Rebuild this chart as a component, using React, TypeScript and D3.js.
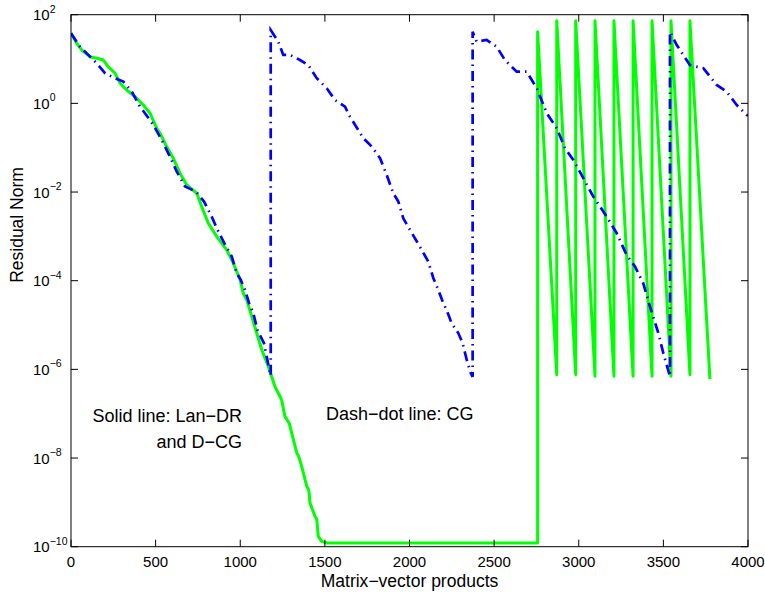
import React from "react";
import * as d3 from "d3";

// Solid green line: Lan-DR and D-CG
const lanX = [0, 34, 63, 112, 152, 191, 220, 260, 290, 329, 378, 427, 467, 506, 526, 565, 604, 644, 684, 743, 772, 811, 861, 920, 959, 999, 1018, 1038, 1068, 1097, 1127, 1166, 1180, 1205, 1235, 1245, 1264, 1290, 1304, 1334, 1345, 1363, 1393, 1405, 1412, 1442, 1452, 1461, 1481, 1511, 2757, 2757, 2870, 2870, 2982, 2982, 3096, 3096, 3208, 3208, 3321, 3321, 3433, 3433, 3545, 3545, 3657, 3657, 3775];
const lanR = [38, 22.6, 16, 11.3, 10.4, 9.5, 6.7, 4.8, 2.84, 2.0, 1.42, 0.92, 0.6, 0.275, 0.212, 0.106, 0.058, 0.0266, 0.0145, 0.0094, 0.0047, 0.00199, 0.00099, 4.97e-4, 2.49e-4, 1.05e-4, 5.2e-5, 3.7e-5, 1.56e-5, 6.6e-6, 2.77e-6, 1.16e-6, 8.0e-7, 4.1e-7, 2.45e-7, 2.0e-7, 8.7e-8, 6.0e-8, 3.66e-8, 1.3e-8, 1.1e-8, 6.5e-9, 2.3e-9, 1.9e-9, 9.7e-10, 4.8e-10, 4.2e-10, 1.71e-10, 1.32e-10, 1.21e-10, 1.21e-10, 41, 7.6e-7, 73, 7.6e-7, 73, 7.0e-7, 73, 7.0e-7, 73, 7.0e-7, 73, 7.0e-7, 73, 7.0e-7, 73, 7.6e-7, 73, 6.0e-7];

// Dash-dot blue line: CG (restarted)
const cgX = [0, 53, 102, 152, 201, 260, 309, 359, 408, 437, 486, 536, 585, 625, 674, 739, 786, 831, 870, 916, 950, 979, 1003, 1028, 1052, 1077, 1101, 1140, 1160, 1176, 1180,
  1180, 1225, 1254, 1294, 1353, 1402, 1452, 1511, 1560, 1619, 1648, 1678, 1727, 1777, 1826, 1865, 1904, 1934, 1963, 2003, 2038, 2078, 2111, 2141, 2170, 2196, 2223, 2249, 2288, 2314, 2338, 2362, 2373,
  2373, 2397, 2456, 2515, 2564, 2633, 2692, 2752, 2811, 2870, 2919, 2968, 3027, 3086, 3165, 3224, 3283, 3332, 3381, 3421, 3470, 3500, 3539,
  3539, 3579, 3657, 3736, 3815, 3874, 3933, 3992, 4000];
const cgR = [38, 19, 12.4, 8.0, 4.8, 3.7, 3.1, 1.84, 0.84, 0.6, 0.33, 0.15, 0.063, 0.0289, 0.0133, 0.0102, 0.0061, 0.0028, 0.00129, 5.9e-4, 3.5e-4, 1.48e-4, 1.05e-4, 6.2e-5, 3.1e-5, 1.86e-5, 7.8e-6, 3.9e-6, 1.65e-6, 8.3e-7, 7.2e-7,
  45, 24.6, 12.4, 12.4, 9.5, 7.3, 3.7, 2.19, 1.19, 0.84, 0.5, 0.33, 0.164, 0.106, 0.058, 0.0244, 0.0094, 0.0061, 0.00257, 0.0014, 8.3e-4, 4.5e-4, 2.7e-4, 1.14e-4, 6.2e-5, 3.4e-5, 2.0e-5, 1.1e-5, 6.6e-6, 3.9e-6, 1.65e-6, 8.3e-7, 6.8e-7,
  41, 24.6, 26.9, 19, 9.5, 5.2, 5.2, 2.19, 0.6, 0.275, 0.097, 0.053, 0.0205, 0.0079, 0.0028, 0.00118, 3.8e-4, 2.09e-4, 8.8e-5, 2.6e-5, 6.6e-6, 2.3e-6, 6.9e-7,
  41, 20.7, 7.3, 6.2, 2.6, 1.84, 0.92, 0.55, 0.53];

const xTicks = [0, 500, 1000, 1500, 2000, 2500, 3000, 3500, 4000];
const yTickExps = [2, 0, -2, -4, -6, -8, -10];

const W = 765, H = 594;
const L = 71, R = 748, T = 14.7, B = 546.7;
const FONT = "'Liberation Sans', Arial, Helvetica, sans-serif";

export default function App() {
  const x = d3.scaleLinear().domain([0, 4000]).range([L, R]);
  const y = d3.scaleLog().domain([1e-10, 1e2]).range([B, T]);
  const line = d3.line<[number, number]>().x(d => x(d[0])).y(d => y(d[1]));
  const lanPts = lanX.map((v, i) => [v, lanR[i]] as [number, number]);
  const cgPts = cgX.map((v, i) => [v, cgR[i]] as [number, number]);
  const tl = 7;
  const fmtExp = (e: number) => (e < 0 ? "\u2212" + Math.abs(e) : String(e));

  return (
    <svg width={W} height={H} style={{ position: "absolute", left: 0, top: 0, background: "#fff" }} fontFamily={FONT}>
      <rect x={0} y={0} width={W} height={H} fill="#fff" />
      <defs>
        <clipPath id="plotclip">
          <rect x={L} y={T - 2} width={R - L} height={B - T + 4} />
        </clipPath>
      </defs>
      <g clipPath="url(#plotclip)">
        <path d={line(lanPts) || ""} fill="none" stroke="#00ff00" strokeWidth={3} strokeLinejoin="round" />
        <path d={line(cgPts) || ""} fill="none" stroke="#0000ff" strokeWidth={2.7} strokeDasharray="10,5,1.5,5" />
      </g>
      {/* box */}
      <rect x={L} y={T} width={R - L} height={B - T} fill="none" stroke="#000" strokeWidth={1} />
      {/* x ticks */}
      {xTicks.map(t => (
        <g key={"xt" + t}>
          <line x1={x(t)} x2={x(t)} y1={B} y2={B - tl} stroke="#000" strokeWidth={1} />
          <line x1={x(t)} x2={x(t)} y1={T} y2={T + tl} stroke="#000" strokeWidth={1} />
          <text x={x(t)} y={567} textAnchor="middle" fontSize={15} fill="#000">{t}</text>
        </g>
      ))}
      {/* y ticks */}
      {yTickExps.map(e => {
        const yy = y(Math.pow(10, e));
        return (
          <g key={"yt" + e}>
            <line x1={L} x2={L + tl} y1={yy} y2={yy} stroke="#000" strokeWidth={1} />
            <line x1={R} x2={R - tl} y1={yy} y2={yy} stroke="#000" strokeWidth={1} />
            <text x={33} y={yy + 5.5} fontSize={15} fill="#000">
              10<tspan dy={-7.7} fontSize={10.5}>{fmtExp(e)}</tspan>
            </text>
          </g>
        );
      })}
      {/* axis labels */}
      <text x={(L + R) / 2} y={586.5} textAnchor="middle" fontSize={17.5} fill="#000">Matrix{"\u2212"}vector products</text>
      <text transform={`translate(23, 225) rotate(-90)`} textAnchor="middle" fontSize={17.5} fill="#000">Residual Norm</text>
      {/* annotations */}
      <text x={242} y={421.5} textAnchor="end" fontSize={18} fill="#000">Solid line: Lan{"\u2212"}DR</text>
      <text x={242} y={448} textAnchor="end" fontSize={18} fill="#000">and D{"\u2212"}CG</text>
      <text x={326} y={420} textAnchor="start" fontSize={18} fill="#000">Dash{"\u2212"}dot line: CG</text>
    </svg>
  );
}
